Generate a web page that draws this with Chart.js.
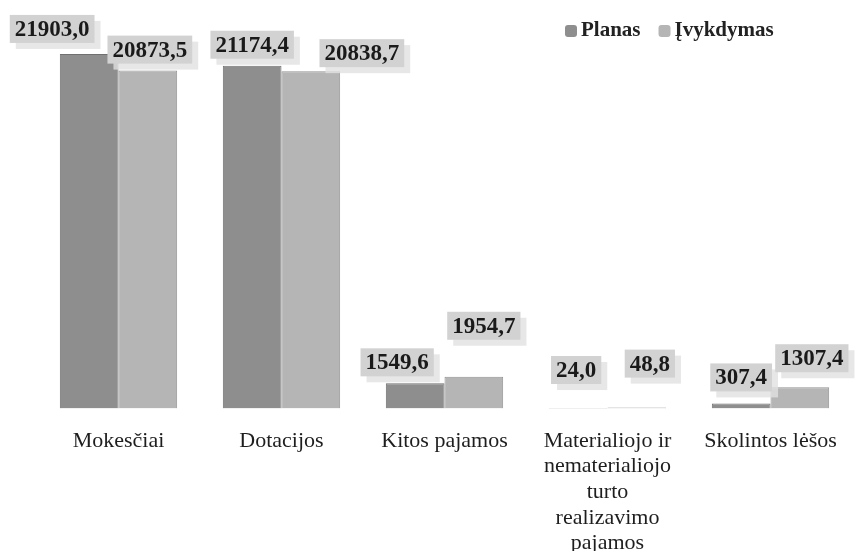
<!DOCTYPE html>
<html>
<head>
<meta charset="utf-8">
<script src="https://cdn.jsdelivr.net/npm/chart.js@4.4.1/dist/chart.umd.min.js"></script>
<style>
  html, body { margin: 0; padding: 0; background: #fff; }
  #wrap { width: 858px; height: 551px; }
</style>
</head>
<body>
<div id="wrap"><canvas id="pajamosChart" width="858" height="551"></canvas></div>
<script>
// Duomenys
const categories = [
    'Mokesčiai',
    'Dotacijos',
    'Kitos pajamos',
    ['Materialiojo ir', 'nematerialiojo', 'turto', 'realizavimo', 'pajamos'],
    'Skolintos lėšos'
];
const seriesNames = ['Planas', 'Įvykdymas'];
const planas = [21903.0, 21174.4, 1549.6, 24.0, 307.4];
const ivykdymas = [20873.5, 20838.7, 1954.7, 48.8, 1307.4];

const fillColors = ['#8e8e8e', '#b5b5b5'];
const borderColors = ['#707070', '#939393'];
const serif = '"Liberation Serif", "DejaVu Serif", serif';

// Etikečių poslinkiai (dx, aukštis virš stulpelio)
const labelOffsets = [
    [[-37, 25], [0, 21], [-18, 21], [-2, 38], [0, 26]],
    [[2, 21], [51, 18], [10, 51], [13, 44], [12, 29]]
];

const valueLabels = {
    id: 'valueLabels',
    afterDatasetsDraw(chart) {
        const ctx = chart.ctx;
        ctx.save();
        ctx.font = 'bold 23px ' + serif;
        ctx.textAlign = 'center';
        ctx.textBaseline = 'middle';
        chart.data.datasets.forEach((ds, i) => {
            chart.getDatasetMeta(i).data.forEach((bar, j) => {
                const txt = ds.data[j].toFixed(1).replace('.', ',');
                const off = labelOffsets[i][j];
                const x = bar.x + off[0];
                const y = bar.y - off[1];
                const w = ctx.measureText(txt).width + 10;
                const h = 28;
                ctx.fillStyle = 'rgba(225,225,225,0.8)';
                ctx.fillRect(x - w / 2 + 6, y - h / 2 + 6, w, h);
                ctx.fillStyle = '#d2d2d2';
                ctx.fillRect(x - w / 2, y - h / 2, w, h);
                ctx.fillStyle = '#1a1a1a';
                ctx.fillText(txt, x, y + 1);
            });
        });
        ctx.restore();
    }
};

const customLegend = {
    id: 'customLegend',
    afterDraw(chart) {
        const ctx = chart.ctx;
        ctx.save();
        ctx.font = 'bold 21px ' + serif;
        ctx.textBaseline = 'middle';
        let x = 565;
        const y = 31;
        chart.data.datasets.forEach((ds, i) => {
            ctx.fillStyle = ds.backgroundColor;
            ctx.beginPath();
            ctx.roundRect(x, y - 6, 12, 12, 3);
            ctx.fill();
            ctx.fillStyle = '#222';
            ctx.fillText(ds.label, x + 16, y);
            x += 16 + ctx.measureText(ds.label).width + 18;
        });
        ctx.restore();
    }
};

new Chart(document.getElementById('pajamosChart'), {
    type: 'bar',
    data: {
        labels: categories,
        datasets: [
            { label: seriesNames[0], data: planas, backgroundColor: fillColors[0], borderColor: borderColors[0], borderWidth: 1 },
            { label: seriesNames[1], data: ivykdymas, backgroundColor: fillColors[1], borderColor: borderColors[1], borderWidth: 1 }
        ]
    },
    options: {
        responsive: false,
        animation: false,
        devicePixelRatio: 1,
        categoryPercentage: 0.72,
        barPercentage: 1,
        layout: { padding: { left: 37, right: 6, top: 20, bottom: -17 } },
        plugins: {
            legend: { display: false },
            tooltip: { enabled: false }
        },
        scales: {
            x: {
                grid: { display: false },
                border: { display: false },
                ticks: {
                    color: '#1e1e1e',
                    font: { family: serif, size: 22, lineHeight: 1.16 },
                    padding: 12,
                    maxRotation: 0,
                    autoSkip: false
                }
            },
            y: { display: false, min: 0, max: 24000 }
        }
    },
    plugins: [valueLabels, customLegend]
});
</script>
</body>
</html>
